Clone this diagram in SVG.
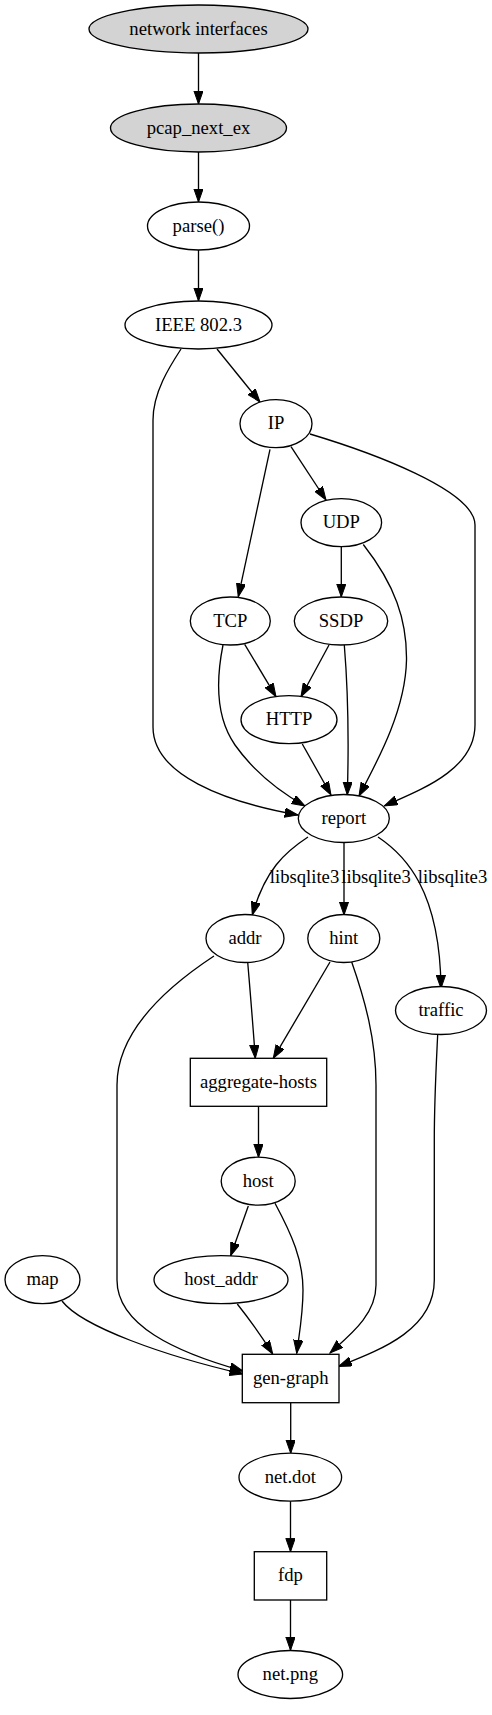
<svg xmlns="http://www.w3.org/2000/svg" width="492" height="1715" viewBox="0 0 492 1715">
<style>
.n ellipse,.n rect{fill:#fff;stroke:#000;stroke-width:1.33}
.g ellipse{fill:#d3d3d3}
text{font-size:18.67px;text-anchor:middle;fill:#000}
#edges path{fill:none;stroke:#000;stroke-width:1.33;marker-end:url(#ah)}
</style>
<defs>
<marker id="ah" markerUnits="userSpaceOnUse" markerWidth="14" markerHeight="10" refX="13.3" refY="4.67" orient="auto">
<path d="M0,0 L13.3,4.67 L0,9.33 z" fill="#000" stroke="#000" stroke-width="1"/>
</marker>
</defs>
<rect width="492" height="1715" fill="#fff"/>
<g id="edges">
<path d="M198.5,53 L198.5,104"/>
<path d="M198.5,152 L198.5,202"/>
<path d="M198.5,250 L198.5,301"/>
<path d="M217,349 C229,364 243,381 260,402"/>
<path d="M181,349 C170,366 153,392 153,420 L153,727 C153,775 225,802 298,815"/>
<path d="M270,449.3 L238.3,596.7"/>
<path d="M291,446.7 L326,500"/>
<path d="M310,434 C370,452 475,490 475,525 L475,725 C475,770 420,790 384.3,806"/>
<path d="M341.3,546.7 L341.3,597"/>
<path d="M363.3,544.5 C395,585 407,620 406.5,660 C405.5,710 378,760 359,796"/>
<path d="M244.7,644.3 L276,696.7"/>
<path d="M223,645 C217,675 214,715 235,745 C255,773 280,792 305,806"/>
<path d="M329,645 L301,696.7"/>
<path d="M344.3,645 C348,690 349,740 347.3,795"/>
<path d="M302.3,744 L331,795"/>
<path d="M308,837 C285,852 265,870 252.3,915"/>
<path d="M344,842.3 L344,915"/>
<path d="M378,837 C405,855 440,890 441,988.3"/>
<path d="M247.7,962 C250,990 253,1025 255.3,1058.3"/>
<path d="M330,962 L273.3,1058.3"/>
<path d="M214,956 C170,985 117,1030 117,1085 L117,1280 C117,1325 175,1352 243,1371"/>
<path d="M62,1301 C82,1327 165,1356 243,1374"/>
<path d="M351.7,962 C365,1000 376,1040 376,1085 L376,1285 C376,1315 350,1335 330,1353"/>
<path d="M437.7,1034.3 C436,1070 434.3,1100 434.3,1140 L434.3,1280 C434.3,1330 380,1350 338.5,1366.5"/>
<path d="M258.5,1106.3 L258.5,1157.3"/>
<path d="M248.3,1206 L230.7,1255.7"/>
<path d="M275,1203.3 C292,1235 303,1260 303,1290 C303,1315 299,1335 296.7,1353.3"/>
<path d="M237.3,1304 C250,1320 262,1337 272.7,1354"/>
<path d="M290.7,1402.7 L290.7,1453.3"/>
<path d="M290.5,1501 L290.5,1551.7"/>
<path d="M290.5,1600 L290.5,1650.3"/>
</g>
<g font-family="Liberation Serif">
<g id="labels">
<text x="304.5" y="883">libsqlite3</text>
<text x="376" y="883">libsqlite3</text>
<text x="452.5" y="883">libsqlite3</text>
</g>
<g id="n_net" class="n g"><ellipse cx="198.5" cy="29" rx="109.5" ry="24"/><text x="198.5" y="34.6">network interfaces</text></g>
<g id="n_pcap" class="n g"><ellipse cx="198.5" cy="128" rx="88" ry="24"/><text x="198.5" y="133.6">pcap_next_ex</text></g>
<g id="n_parse" class="n"><ellipse cx="198.5" cy="226" rx="51" ry="24"/><text x="198.5" y="231.6">parse()</text></g>
<g id="n_ieee" class="n"><ellipse cx="198.5" cy="325" rx="73.5" ry="24"/><text x="198.5" y="330.6">IEEE 802.3</text></g>
<g id="n_ip" class="n"><ellipse cx="276" cy="423.7" rx="36" ry="24"/><text x="276" y="429.3">IP</text></g>
<g id="n_udp" class="n"><ellipse cx="341.3" cy="522.7" rx="40.3" ry="24"/><text x="341.3" y="528.3">UDP</text></g>
<g id="n_tcp" class="n"><ellipse cx="230.3" cy="621" rx="40" ry="24"/><text x="230.3" y="626.6">TCP</text></g>
<g id="n_ssdp" class="n"><ellipse cx="341" cy="621" rx="46.7" ry="24"/><text x="341" y="626.6">SSDP</text></g>
<g id="n_http" class="n"><ellipse cx="289" cy="719.7" rx="48" ry="24"/><text x="289" y="725.3">HTTP</text></g>
<g id="n_report" class="n"><ellipse cx="343.8" cy="818.5" rx="45.5" ry="24"/><text x="343.8" y="824.1">report</text></g>
<g id="n_addr" class="n"><ellipse cx="245" cy="938.5" rx="39" ry="24"/><text x="245" y="944.1">addr</text></g>
<g id="n_hint" class="n"><ellipse cx="343.8" cy="938.5" rx="36" ry="24"/><text x="343.8" y="944.1">hint</text></g>
<g id="n_traffic" class="n"><ellipse cx="441" cy="1010.5" rx="45.5" ry="24"/><text x="441" y="1016.1">traffic</text></g>
<g id="n_agg" class="n"><rect x="190.3" y="1058.3" width="136.4" height="48"/><text x="258.5" y="1087.9">aggregate-hosts</text></g>
<g id="n_host" class="n"><ellipse cx="258.2" cy="1181.2" rx="37" ry="24"/><text x="258.2" y="1186.8">host</text></g>
<g id="n_hostaddr" class="n"><ellipse cx="221" cy="1279.7" rx="67" ry="24"/><text x="221" y="1285.3">host_addr</text></g>
<g id="n_map" class="n"><ellipse cx="42.5" cy="1279.7" rx="37.5" ry="24"/><text x="42.5" y="1285.3">map</text></g>
<g id="n_gen" class="n"><rect x="242.3" y="1354.3" width="96.7" height="48.4"/><text x="290.7" y="1384.1">gen-graph</text></g>
<g id="n_netdot" class="n"><ellipse cx="290.3" cy="1477.2" rx="51.3" ry="24"/><text x="290.3" y="1482.8">net.dot</text></g>
<g id="n_fdp" class="n"><rect x="254.3" y="1551.7" width="72.4" height="48.3"/><text x="290.5" y="1581.4">fdp</text></g>
<g id="n_netpng" class="n"><ellipse cx="290.3" cy="1674.5" rx="52.3" ry="24"/><text x="290.3" y="1680.1">net.png</text></g>
</g>
</svg>
